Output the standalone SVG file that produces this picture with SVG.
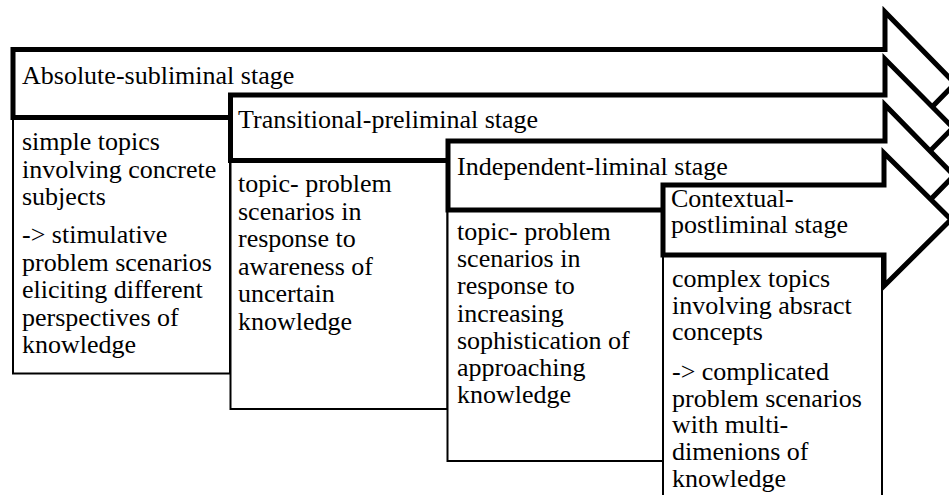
<svg xmlns="http://www.w3.org/2000/svg" width="949" height="503" viewBox="0 0 949 503">
<style>
text{font-family:'Liberation Serif','DejaVu Serif',serif;font-size:26px;fill:#000}
.arrow{fill:#fff;stroke:#000;stroke-width:5;stroke-linejoin:miter;stroke-miterlimit:10}
.box{fill:#fff;stroke:#000;stroke-width:2}
</style>
<rect width="949" height="503" fill="#fff"/>
<g id="connectors"/>
<g id="stage1" font-family="Liberation Serif, DejaVu Serif, serif">
<rect class="box" x="13" y="117.5" width="217" height="256"/>
<text><tspan x="22" y="150">simple topics</tspan><tspan x="22" y="177.5">involving concrete</tspan><tspan x="22" y="205">subjects</tspan><tspan x="22" y="243">-&gt; stimulative</tspan><tspan x="22" y="270.5">problem scenarios</tspan><tspan x="22" y="298">eliciting different</tspan><tspan x="22" y="325.5">perspectives of</tspan><tspan x="22" y="353">knowledge</tspan></text>
<path class="arrow" d="M13,49.5 H885 V12 L955,83.5 L885,155 V117.5 H13 Z"/>
<text x="22" y="84">Absolute-subliminal stage</text>
</g>
<g id="stage2" font-family="Liberation Serif, DejaVu Serif, serif">
<rect class="box" x="230.5" y="160.5" width="217" height="248.5"/>
<text><tspan x="238" y="192">topic- problem</tspan><tspan x="238" y="219.5">scenarios in</tspan><tspan x="238" y="247">response to</tspan><tspan x="238" y="274.5">awareness of</tspan><tspan x="238" y="302">uncertain</tspan><tspan x="238" y="329.5">knowledge</tspan></text>
<path class="arrow" d="M230.5,95 H885 V59 L953,127.75 L885,196.5 V160.5 H230.5 Z"/>
<text x="238" y="128">Transitional-preliminal stage</text>
</g>
<g id="stage3" font-family="Liberation Serif, DejaVu Serif, serif">
<rect class="box" x="447.5" y="210" width="215.5" height="251"/>
<text><tspan x="457" y="240">topic- problem</tspan><tspan x="457" y="267.2">scenarios in</tspan><tspan x="457" y="294.4">response to</tspan><tspan x="457" y="321.6">increasing</tspan><tspan x="457" y="348.8">sophistication of</tspan><tspan x="457" y="376">approaching</tspan><tspan x="457" y="403.2">knowledge</tspan></text>
<path class="arrow" d="M448,141 H885 V105 L954,175.5 L885,246 V210 H448 Z"/>
<text x="457" y="175">Independent-liminal stage</text>
</g>
<g id="stage4" font-family="Liberation Serif, DejaVu Serif, serif">
<path class="box" d="M663,495 V255 H882 V495"/>
<text><tspan x="672" y="287">complex topics</tspan><tspan x="672" y="313.5">involving absract</tspan><tspan x="672" y="340">concepts</tspan><tspan x="672" y="380">-&gt; complicated</tspan><tspan x="672" y="406.7">problem scenarios</tspan><tspan x="672" y="433.4">with multi-</tspan><tspan x="672" y="460.1">dimenions of</tspan><tspan x="672" y="486.8">knowledge</tspan></text>
<path class="arrow" d="M663,185 H884 V153 L951,219.5 L884,286 V255 H663 Z"/>
<text><tspan x="671" y="207">Contextual-</tspan><tspan x="671" y="233">postliminal stage</tspan></text>
</g>
</svg>
